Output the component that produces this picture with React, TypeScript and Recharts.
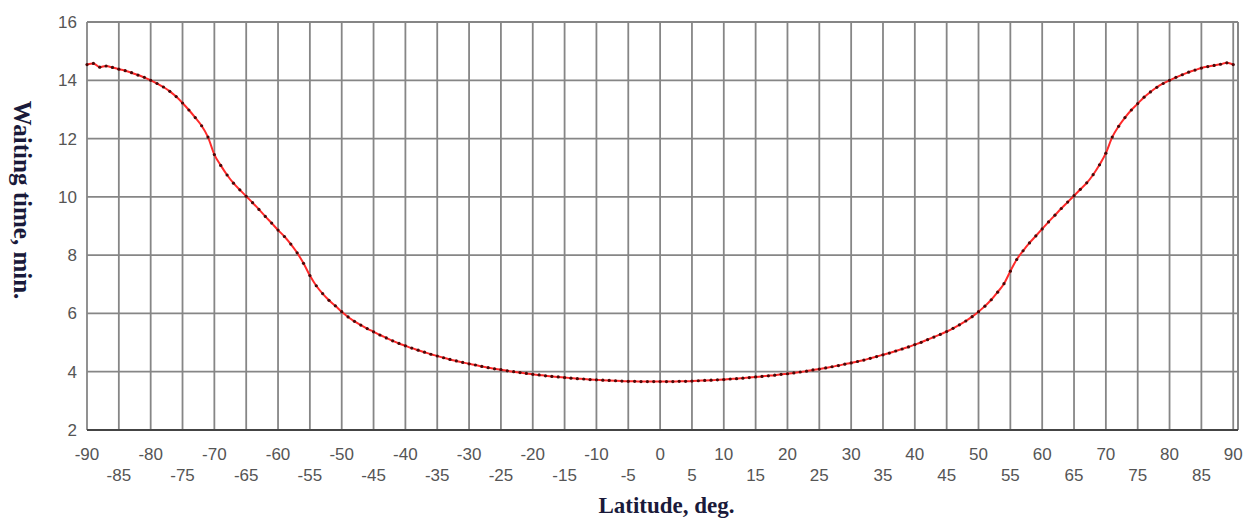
import { LineChart, Line, XAxis, YAxis, CartesianGrid, ReferenceLine } from 'recharts';

const latitudes = [
  -90, -89, -88, -87, -86, -85, -84, -83, -82, -81, -80, -79, -78, -77, -76, -75, -74, -73, -72, -71,
  -70, -69, -68, -67, -66, -65, -64, -63, -62, -61, -60, -59, -58, -57, -56, -55, -54, -53, -52, -51,
  -50, -49, -48, -47, -46, -45, -44, -43, -42, -41, -40, -39, -38, -37, -36, -35, -34, -33, -32, -31,
  -30, -29, -28, -27, -26, -25, -24, -23, -22, -21, -20, -19, -18, -17, -16, -15, -14, -13, -12, -11,
  -10, -9, -8, -7, -6, -5, -4, -3, -2, -1, 0, 1, 2, 3, 4, 5, 6, 7, 8, 9,
  10, 11, 12, 13, 14, 15, 16, 17, 18, 19, 20, 21, 22, 23, 24, 25, 26, 27, 28, 29,
  30, 31, 32, 33, 34, 35, 36, 37, 38, 39, 40, 41, 42, 43, 44, 45, 46, 47, 48, 49,
  50, 51, 52, 53, 54, 55, 56, 57, 58, 59, 60, 61, 62, 63, 64, 65, 66, 67, 68, 69,
  70, 71, 72, 73, 74, 75, 76, 77, 78, 79, 80, 81, 82, 83, 84, 85, 86, 87, 88, 89, 90,
];

const waitingTime = [
  14.54, 14.58, 14.45, 14.49, 14.44, 14.38, 14.33, 14.26, 14.18, 14.1, 14.0, 13.89, 13.77, 13.62, 13.44, 13.22, 12.98, 12.72, 12.44, 12.05,
  11.45, 11.08, 10.75, 10.47, 10.24, 10.02, 9.8, 9.57, 9.33, 9.1, 8.86, 8.64, 8.38, 8.08, 7.72, 7.3, 6.95, 6.68, 6.45, 6.26,
  6.06, 5.88, 5.73, 5.6, 5.48, 5.37, 5.26, 5.16, 5.06, 4.97, 4.89, 4.81, 4.74, 4.67, 4.6, 4.54, 4.48, 4.42, 4.37, 4.32,
  4.27, 4.23, 4.18, 4.14, 4.1, 4.07, 4.03, 4.0, 3.97, 3.94, 3.91, 3.89, 3.86, 3.84, 3.82, 3.8, 3.78, 3.76, 3.75, 3.73,
  3.72, 3.71, 3.7, 3.69, 3.68, 3.67, 3.67, 3.66, 3.66, 3.66, 3.66, 3.66, 3.66, 3.67, 3.67, 3.68, 3.69, 3.7, 3.71, 3.72,
  3.73, 3.75, 3.76, 3.78, 3.8, 3.82, 3.84, 3.86, 3.88, 3.91, 3.93, 3.96, 3.99, 4.02, 4.06, 4.09, 4.13, 4.17, 4.21, 4.26,
  4.3, 4.35, 4.4, 4.46, 4.52, 4.58, 4.64, 4.71, 4.78, 4.85, 4.93, 5.01, 5.1, 5.19, 5.28, 5.38, 5.49, 5.61, 5.74, 5.89,
  6.06, 6.25, 6.47, 6.73, 7.02, 7.45, 7.85, 8.15, 8.42, 8.66, 8.9, 9.14, 9.37, 9.6, 9.82, 10.04, 10.26, 10.48, 10.76, 11.1,
  11.5, 12.05, 12.42, 12.72, 12.98, 13.2, 13.42, 13.6, 13.76, 13.89, 14.0, 14.1, 14.19, 14.28, 14.35, 14.42, 14.47, 14.51, 14.55, 14.6, 14.54,
];

const xTicks = [
  -90, -85, -80, -75, -70, -65, -60, -55, -50, -45, -40, -35, -30, -25, -20, -15, -10, -5,
  0, 5, 10, 15, 20, 25, 30, 35, 40, 45, 50, 55, 60, 65, 70, 75, 80, 85, 90,
];
const yTicks = [2, 4, 6, 8, 10, 12, 14, 16];

const data = latitudes.map((lat, i) => ({ lat, time: waitingTime[i] }));

const tickFont = '"Liberation Sans", Arial, sans-serif';
const labelFont = '"Liberation Serif", "Times New Roman", serif';
const gridColor = '#868686';

// two rows of x labels: tens on top, fives below
const XTick = (props: any) => {
  const { x, y, payload } = props;
  const lower = payload.value % 10 !== 0;
  return (
    <text
      x={x}
      y={y}
      dy={lower ? 51 : 30}
      textAnchor="middle"
      fill="#555"
      fontSize={17}
      fontFamily={tickFont}
    >
      {payload.value}
    </text>
  );
};

const XLabel = (props: any) => {
  const { viewBox } = props;
  const cx = viewBox.x + viewBox.width / 2 + 4;
  return (
    <text
      x={cx}
      y={513}
      textAnchor="middle"
      fill="#1a1a3a"
      fontSize={23}
      fontWeight="bold"
      fontFamily={labelFont}
    >
      Latitude, deg.
    </text>
  );
};

const YLabel = (props: any) => {
  const { viewBox } = props;
  const cx = 22;
  const cy = viewBox.y + viewBox.height / 2 - 26;
  return (
    <text
      x={cx}
      y={cy}
      transform={`rotate(90, ${cx}, ${cy})`}
      textAnchor="middle"
      dominantBaseline="central"
      fill="#1a1a3a"
      fontSize={25}
      fontWeight="bold"
      fontFamily={labelFont}
    >
      Waiting time, min.
    </text>
  );
};

const App = () => {
  return (
    <div style={{ position: 'absolute', left: 0, top: 0, background: '#fff' }}>
      <LineChart
        width={1247}
        height={519}
        data={data}
        margin={{ top: 22, right: 9, left: 0, bottom: 0 }}
      >
        <CartesianGrid stroke={gridColor} strokeWidth={1.8} />
        <XAxis
          dataKey="lat"
          type="number"
          domain={[-90, 90.75]}
          ticks={xTicks}
          interval={0}
          height={89}
          tickLine={false}
          tickSize={0}
          tickMargin={0}
          tick={<XTick />}
          axisLine={{ stroke: '#444', strokeWidth: 2 }}
          label={<XLabel />}
        />
        <YAxis
          type="number"
          domain={[2, 16]}
          ticks={yTicks}
          width={87}
          tickLine={false}
          axisLine={false}
          tickSize={8}
          tickMargin={2}
          tick={{ fill: '#555', fontSize: 17, fontFamily: tickFont }}
          label={<YLabel />}
        />
        <ReferenceLine x={90.75} stroke={gridColor} strokeWidth={1.8} />
        <Line
          type="monotone"
          dataKey="time"
          stroke="#ff2a2a"
          strokeWidth={2}
          dot={{ r: 1.6, fill: '#4a0808', stroke: 'none' }}
          isAnimationActive={false}
        />
      </LineChart>
    </div>
  );
};

export default App;
